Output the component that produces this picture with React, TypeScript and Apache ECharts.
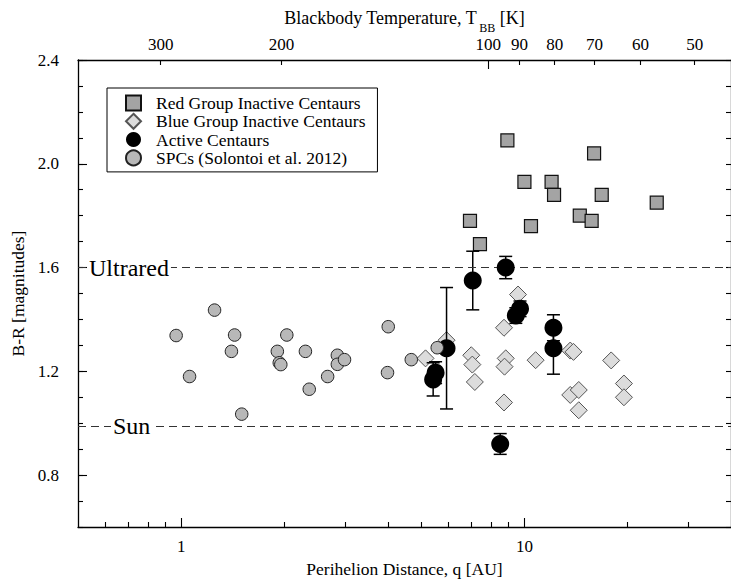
import React, { useEffect, useRef } from "react";
import * as echarts from "echarts";

// ---------------- data ----------------
const Q_MIN = 0.5;
const Q_MAX = 40;
const T_CONST = 280; // T_BB = T_CONST / sqrt(q)

const Q_MAJOR = [1, 10];
const Q_MINOR = [0.6, 0.7, 0.8, 0.9, 2, 3, 4, 5, 6, 7, 8, 9, 20, 30];
const T_TICKS = [300, 200, 90, 80, 70, 60, 50];
const T_LABELS = [300, 200, 100, 90, 80, 70, 60, 50];
const T_MAJOR = [100];
const BR_MAJOR = [0.8, 1.2, 1.6, 2.0, 2.4];

const redQ = [8.92, 15.96, 10.0, 12.0, 12.2, 16.8, 24.3, 6.94, 14.5, 15.7, 10.45, 7.42];
const redBR = [2.09, 2.04, 1.93, 1.93, 1.88, 1.88, 1.85, 1.78, 1.8, 1.78, 1.76, 1.69];

const blueQ = [5.15, 5.93, 7.0, 7.05, 7.17, 9.58, 8.72, 8.82, 8.75, 8.72, 10.78, 13.6, 13.9, 17.9, 13.6, 14.4, 14.4, 19.5, 19.5];
const blueBR = [1.25, 1.32, 1.262, 1.226, 1.159, 1.496, 1.368, 1.25, 1.218, 1.08, 1.243, 1.28, 1.275, 1.242, 1.109, 1.128, 1.05, 1.153, 1.1];

const activeQ = [7.07, 8.82, 9.44, 9.71, 12.15, 12.15, 5.93, 5.51, 5.42, 8.5];
const activeBR = [1.55, 1.6, 1.415, 1.441, 1.368, 1.289, 1.289, 1.195, 1.169, 0.92];
const activeErr = [0.113, 0.043, 0.03, 0.03, 0.05, 0.1, 0.234, 0.042, 0.064, 0.04];

const spcQ = [0.966, 1.057, 1.25, 1.43, 1.4, 1.5, 1.905, 1.93, 1.95, 2.03, 2.3, 2.36, 2.67, 2.85, 2.85, 2.99, 4.01, 3.99, 4.68, 5.57];
const spcBR = [1.338, 1.18, 1.436, 1.34, 1.277, 1.035, 1.277, 1.233, 1.226, 1.34, 1.277, 1.131, 1.18, 1.262, 1.227, 1.245, 1.372, 1.195, 1.245, 1.291];

const ULTRARED = 1.6;
const SUN = 0.99;

const TOP_TITLE = ["Blackbody Temperature, T", "BB", " [K]"];

// ---------------- chart ----------------
const FONT = "'Liberation Serif', 'Times New Roman', serif";
const LMIN = Math.log10(Q_MIN);
const LMAX = Math.log10(Q_MAX);
const tToL = (t: number) => Math.log10((T_CONST / t) ** 2);
const lToT = (v: number) => Math.round(T_CONST / Math.sqrt(10 ** v));

const lineStyle = { color: "#000", width: 1.3 };
const tickStyle = { color: "#000", width: 1.1 };

const W = 731;
const GRID = { left: 78, right: 0, top: 60, bottom: 55 };

function measure(text: string, font: string): number {
  const c = document.createElement("canvas").getContext("2d");
  if (!c) return text.length * 8;
  c.font = font;
  return c.measureText(text).width;
}

function titleGraphic() {
  const fMain = `18px ${FONT}`;
  const fSub = `12px ${FONT}`;
  const w1 = measure(TOP_TITLE[0], fMain);
  const w2 = measure(TOP_TITLE[1], fSub);
  const w3 = measure(TOP_TITLE[2], fMain);
  const gap = 2;
  const total = w1 + gap + w2 + w3;
  const cx = GRID.left + (W - GRID.left - GRID.right) / 2;
  const x0 = cx - total / 2;
  const yMain = 18;
  const ySub = 28;
  const st = (text: string, font: string) => ({
    text,
    font,
    fill: "#000",
    align: "left",
    verticalAlign: "middle",
  });
  return [
    { type: "text", x: x0, y: yMain, style: st(TOP_TITLE[0], fMain), silent: true },
    { type: "text", x: x0 + w1 + gap, y: ySub, style: st(TOP_TITLE[1], fSub), silent: true },
    { type: "text", x: x0 + w1 + gap + w2, y: yMain, style: st(TOP_TITLE[2], fMain), silent: true },
  ];
}

function buildOption() {
  const baseLogValueAxis = {
    type: "value",
    gridIndex: 0,
    min: LMIN,
    max: LMAX,
    splitLine: { show: false },
  };
  return {
    animation: false,
    backgroundColor: "#fff",
    textStyle: { fontFamily: FONT },
    grid: { ...GRID, containLabel: false },
    graphic: titleGraphic(),
    legend: {
      orient: "vertical",
      left: 107,
      top: 88,
      itemWidth: 15,
      itemHeight: 15,
      itemGap: 0.3,
      padding: [6, 12, 5, 18],
      borderColor: "#000",
      borderWidth: 1,
      backgroundColor: "#fff",
      selectedMode: false,
      textStyle: {
        fontFamily: FONT,
        fontSize: 17.5,
        color: "#000",
        lineHeight: 17,
        padding: [0, 0, 0, 10],
      },
      data: [
        "Red Group Inactive Centaurs",
        "Blue Group Inactive Centaurs",
        "Active Centaurs",
        "SPCs (Solontoi et al. 2012)",
      ],
    },
    xAxis: [
      {
        type: "log",
        gridIndex: 0,
        min: Q_MIN,
        max: Q_MAX,
        position: "bottom",
        axisLine: { show: true, onZero: false, lineStyle },
        axisTick: { show: false },
        axisLabel: { show: false },
        splitLine: { show: false },
      },
      {
        ...baseLogValueAxis,
        position: "bottom",
        axisLine: { show: false, onZero: false },
        axisTick: {
          show: true,
          inside: true,
          length: 9,
          customValues: Q_MAJOR.map((q) => Math.log10(q)),
          lineStyle: tickStyle,
        },
        axisLabel: {
          show: true,
          customValues: Q_MAJOR.map((q) => Math.log10(q)),
          formatter: (v: number) => String(Math.round(10 ** v)),
          margin: 11,
          fontSize: 17,
          color: "#000",
          fontFamily: FONT,
        },
        name: "Perihelion Distance, q [AU]",
        nameLocation: "middle",
        nameGap: 33,
        nameTextStyle: { fontSize: 17.5, color: "#000", fontFamily: FONT },
      },
      {
        ...baseLogValueAxis,
        position: "bottom",
        axisLine: { show: false, onZero: false },
        axisTick: {
          show: true,
          inside: true,
          length: 5,
          customValues: Q_MINOR.map((q) => Math.log10(q)),
          lineStyle: tickStyle,
        },
        axisLabel: { show: false },
      },
      {
        ...baseLogValueAxis,
        position: "top",
        axisLine: { show: true, onZero: false, lineStyle },
        axisTick: {
          show: true,
          inside: true,
          length: 5,
          customValues: T_TICKS.map(tToL),
          lineStyle: tickStyle,
        },
        axisLabel: {
          show: true,
          customValues: T_LABELS.map(tToL),
          formatter: (v: number) => String(lToT(v)),
          margin: 7,
          fontSize: 17,
          color: "#000",
          fontFamily: FONT,
        },
      },
      {
        ...baseLogValueAxis,
        position: "top",
        axisLine: { show: false, onZero: false },
        axisTick: {
          show: true,
          inside: true,
          length: 9,
          customValues: T_MAJOR.map(tToL),
          lineStyle: tickStyle,
        },
        axisLabel: { show: false },
      },
    ],
    yAxis: [
      {
        type: "value",
        gridIndex: 0,
        min: 0.6,
        max: 2.4,
        interval: 0.1,
        position: "left",
        axisLine: { show: true, onZero: false, lineStyle },
        axisTick: { show: true, inside: true, length: 5, lineStyle: tickStyle },
        axisLabel: {
          formatter: (v: number) =>
            BR_MAJOR.some((m) => Math.abs(m - v) < 1e-6) ? v.toFixed(1) : "",
          margin: 19,
          fontSize: 17,
          color: "#000",
          fontFamily: FONT,
        },
        splitLine: { show: false },
        name: "B-R [magnitudes]",
        nameLocation: "middle",
        nameRotate: 90,
        nameGap: 51,
        nameTextStyle: { fontSize: 17.5, color: "#000", fontFamily: FONT },
      },
      {
        type: "value",
        gridIndex: 0,
        min: 0.6,
        max: 2.4,
        position: "left",
        axisLine: { show: false, onZero: false },
        axisTick: { show: true, inside: true, length: 9, customValues: BR_MAJOR, lineStyle: tickStyle },
        axisLabel: { show: false },
        splitLine: { show: false },
      },
      {
        type: "value",
        gridIndex: 0,
        min: 0.6,
        max: 2.4,
        interval: 0.1,
        position: "right",
        axisLine: { show: true, onZero: false, lineStyle },
        axisTick: { show: true, inside: true, length: 5, lineStyle: tickStyle },
        axisLabel: { show: false },
        splitLine: { show: false },
      },
    ],
    series: [
      {
        name: "Red Group Inactive Centaurs",
        type: "scatter",
        xAxisIndex: 0,
        yAxisIndex: 0,
        symbol: "rect",
        symbolSize: 13,
        itemStyle: { color: "#a4a4a4", borderColor: "#111", borderWidth: 1.2, opacity: 1 },
        data: redQ.map((q, i) => [q, redBR[i]]),
        markLine: {
          silent: true,
          symbol: "none",
          animation: false,
          lineStyle: { type: [8, 5], color: "#333", width: 1 },
          label: {
            show: true,
            position: "insideStart",
            formatter: "{b}",
            fontSize: 24,
            color: "#000",
            fontFamily: FONT,
            backgroundColor: "#fff",
            padding: [0, 2],
          },
          data: [
            { name: "Ultrared", yAxis: ULTRARED, label: { distance: 9 } },
            { name: "Sun", yAxis: SUN, label: { distance: 33 } },
          ],
        },
        z: 2,
      },
      {
        name: "Blue Group Inactive Centaurs",
        type: "scatter",
        xAxisIndex: 0,
        yAxisIndex: 0,
        symbol: "diamond",
        symbolSize: 17,
        itemStyle: { color: "#dcdcdc", borderColor: "#555", borderWidth: 1, opacity: 1 },
        data: blueQ.map((q, i) => [q, blueBR[i]]),
        z: 3,
      },
      {
        name: "errorbars",
        type: "custom",
        xAxisIndex: 0,
        yAxisIndex: 0,
        silent: true,
        z: 4,
        encode: { x: 0, y: [1, 2] },
        data: activeQ.map((q, i) => [q, activeBR[i] - activeErr[i], activeBR[i] + activeErr[i]]),
        renderItem: (_params: any, api: any) => {
          const q = api.value(0);
          const lo = api.coord([q, api.value(1)]);
          const hi = api.coord([q, api.value(2)]);
          const w = 6.5;
          const st = { stroke: "#000", lineWidth: 1.5 };
          return {
            type: "group",
            children: [
              { type: "line", shape: { x1: lo[0], y1: lo[1], x2: hi[0], y2: hi[1] }, style: st },
              { type: "line", shape: { x1: lo[0] - w, y1: lo[1], x2: lo[0] + w, y2: lo[1] }, style: st },
              { type: "line", shape: { x1: hi[0] - w, y1: hi[1], x2: hi[0] + w, y2: hi[1] }, style: st },
            ],
          };
        },
      },
      {
        name: "Active Centaurs",
        type: "scatter",
        xAxisIndex: 0,
        yAxisIndex: 0,
        symbol: "circle",
        symbolSize: 18,
        itemStyle: { color: "#000", opacity: 1 },
        data: activeQ.map((q, i) => [q, activeBR[i]]),
        z: 5,
      },
      {
        name: "SPCs (Solontoi et al. 2012)",
        type: "scatter",
        xAxisIndex: 0,
        yAxisIndex: 0,
        symbol: "circle",
        symbolSize: 12.5,
        itemStyle: { color: "#b8b8b8", borderColor: "#222", borderWidth: 1, opacity: 1 },
        data: spcQ.map((q, i) => [q, spcBR[i]]),
        z: 6,
      },
    ],
  };
}

export default function App() {
  const ref = useRef<HTMLDivElement>(null);
  useEffect(() => {
    if (!ref.current) return;
    const chart = echarts.init(ref.current, undefined, { renderer: "svg" });
    chart.setOption(buildOption() as any);
    return () => chart.dispose();
  }, []);
  return (
    <div
      ref={ref}
      style={{ position: "absolute", left: 0, top: 0, width: W, height: 583, background: "#fff" }}
    />
  );
}
